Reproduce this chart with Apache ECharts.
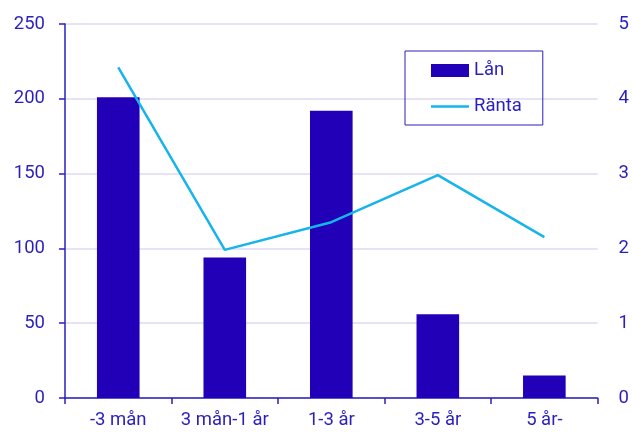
<!DOCTYPE html>
<html>
<head>
<meta charset="utf-8">
<script src="https://cdn.jsdelivr.net/npm/echarts@6/dist/echarts.min.js"></script>
<style>
html,body{margin:0;padding:0;background:#fff;}
#chart{width:632px;height:433px;}
</style>
</head>
<body>
<div id="chart"></div>
<script>
// Loan volume by maturity (bars, left axis) and interest rate (line, right axis)
const categories = ['-3 mån', '3 mån-1 år', '1-3 år', '3-5 år', '5 år-'];
const lanValues = [201, 94, 192, 56, 15];
const rantaValues = [4.42, 1.98, 2.35, 2.98, 2.15];

const textColor = '#2a1fbd';
const barColor = '#2100b8';
const lineColor = '#16b4ea';
const gridColor = '#dcdaf0';
const font = 'Roboto';
const fontSize = 18.5;

const chart = echarts.init(document.getElementById('chart'));
chart.setOption({
  animation: false,
  textStyle: { fontFamily: font },
  grid: { left: 65, right: 32, top: 24, bottom: 35, containLabel: false },
  legend: {
    orient: 'vertical',
    left: 405, top: 51,
    padding: [10, 21, 9, 26],
    itemGap: 17,
    itemWidth: 38, itemHeight: 13,
    borderColor: '#2a1fbd', borderWidth: 1,
    textStyle: { color: textColor, fontSize: fontSize, fontFamily: font },
    data: [
      { name: 'Lån', icon: 'rect' },
      // plain stroke icon for the line series
      { name: 'Ränta', icon: 'path://M0,0 L38,0 L38,2.5 L0,2.5 Z', itemStyle: { color: lineColor } }
    ]
  },
  xAxis: {
    type: 'category',
    data: categories,
    axisLine: { lineStyle: { color: '#2a1fbd', width: 1.5 } },
    axisTick: { show: true, length: 6, interval: 0, lineStyle: { color: '#2a1fbd', width: 1.5 } },
    axisLabel: { color: textColor, fontSize: fontSize, margin: 13, interval: 0, hideOverlap: false }
  },
  yAxis: [
    {
      type: 'value', min: 0, max: 250, interval: 50,
      axisLine: { show: true, lineStyle: { color: '#2a1fbd', width: 1.5 } },
      axisTick: { show: true, length: 6, lineStyle: { color: '#2a1fbd', width: 1.5 } },
      axisLabel: { color: textColor, fontSize: fontSize, margin: 20 },
      splitLine: { lineStyle: { color: gridColor, width: 1.5 } }
    },
    {
      type: 'value', min: 0, max: 5, interval: 1,
      axisLine: { show: false },
      axisTick: { show: false },
      axisLabel: { color: textColor, fontSize: fontSize, margin: 21 },
      splitLine: { show: false }
    }
  ],
  series: [
    {
      name: 'Lån', type: 'bar', data: lanValues, yAxisIndex: 0,
      barWidth: '40%',
      itemStyle: { color: barColor }
    },
    {
      name: 'Ränta', type: 'line', data: rantaValues, yAxisIndex: 1,
      symbol: 'none',
      lineStyle: { color: lineColor, width: 2.5 },
      itemStyle: { color: lineColor }
    }
  ]
});
</script>
</body>
</html>
